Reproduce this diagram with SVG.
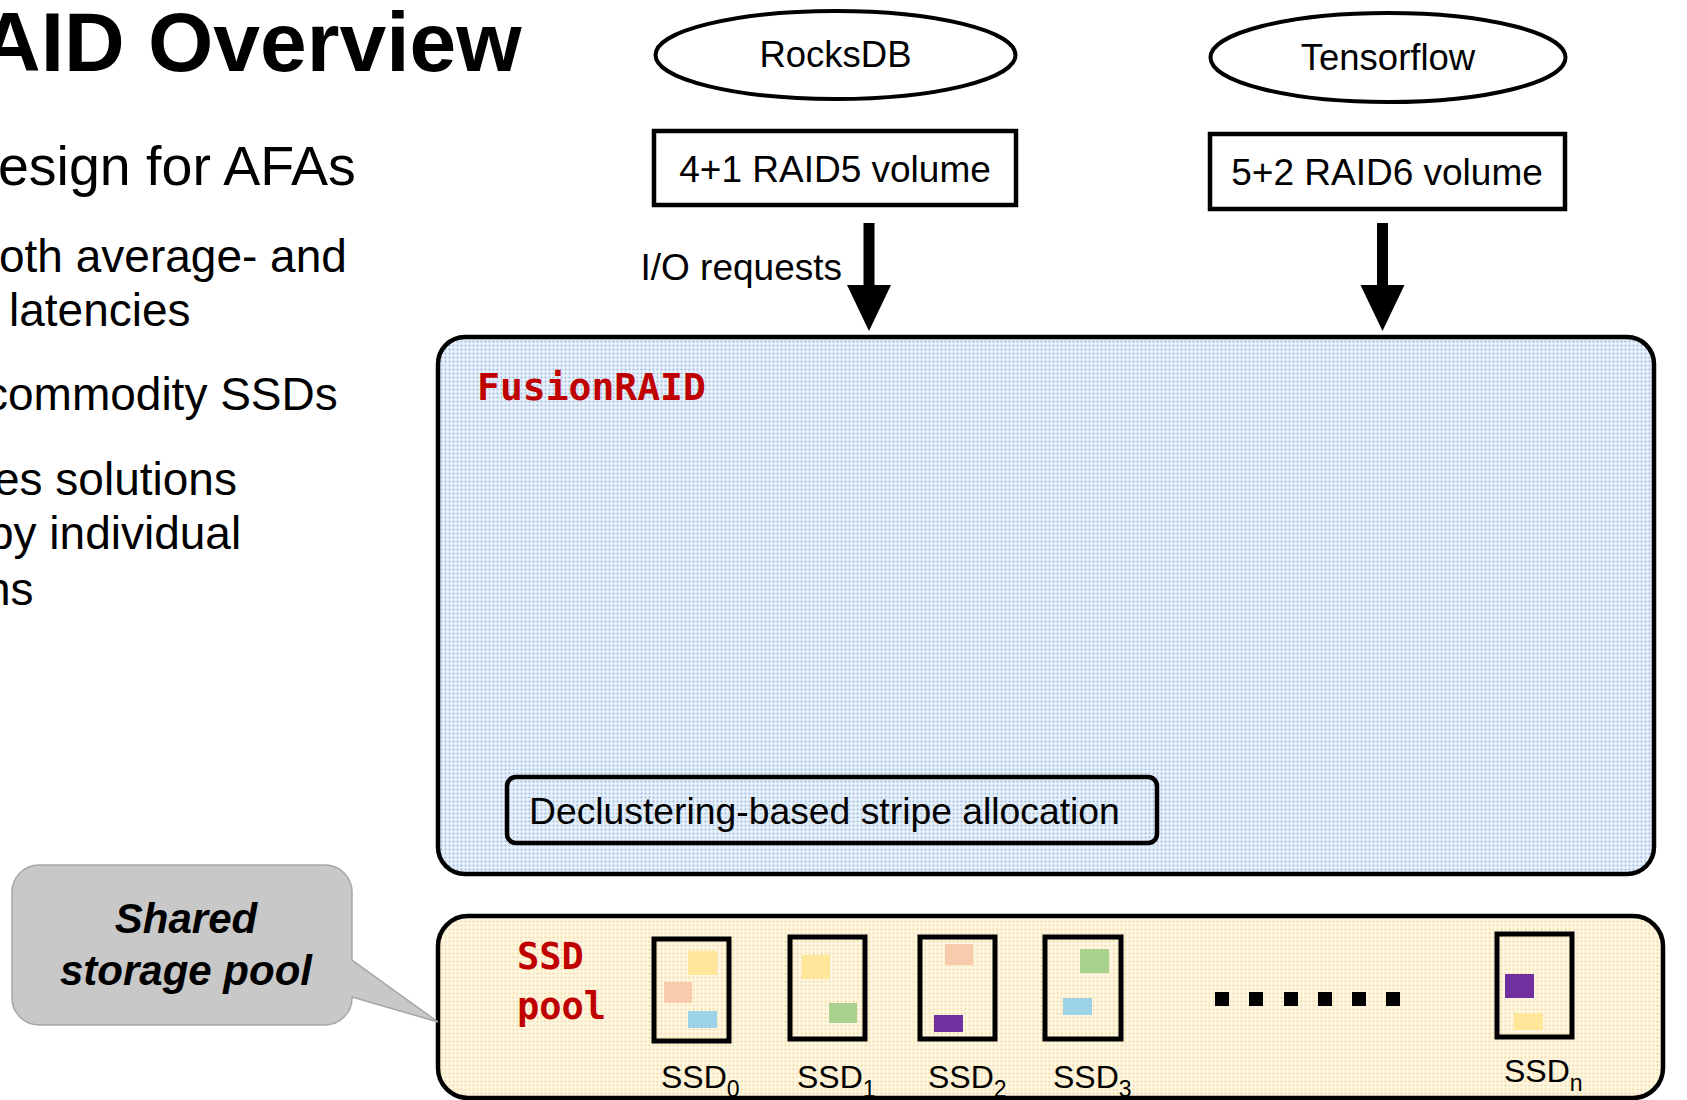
<svg xmlns="http://www.w3.org/2000/svg" width="1687" height="1100" viewBox="0 0 1687 1100">
<style>
.sans{font-family:"Liberation Sans",Arial,sans-serif;fill:#000}
.mono{font-family:"DejaVu Sans Mono","Liberation Mono",monospace;font-weight:bold;fill:#c00000}
.box{fill:none;stroke:#000;stroke-width:4.5}
.ssd{fill:none;stroke:#000;stroke-width:5}
.arrow{stroke:#000;stroke-width:11;fill:none}
</style>
<defs>
<pattern id="bluePat" width="4" height="4" patternUnits="userSpaceOnUse">
<rect width="4" height="4" fill="#e8f0f9"/>
<rect x="1" y="0" width="1" height="3" fill="#b7cfea"/>
<rect x="0" y="1" width="3" height="1" fill="#b7cfea"/>
</pattern>
<pattern id="yellowPat" width="4" height="4" patternUnits="userSpaceOnUse">
<rect width="4" height="4" fill="#fdf7e4"/>
<rect x="1" y="0" width="1" height="3" fill="#f7e3b3"/>
<rect x="0" y="1" width="3" height="1" fill="#f7e3b3"/>
</pattern>
<marker id="head" markerUnits="userSpaceOnUse" markerWidth="46" markerHeight="44" refX="0" refY="22" orient="auto" overflow="visible">
<path d="M0,0 L46,22 L0,44 Z" fill="#000"/>
</marker>
</defs>
<rect width="1687" height="1100" fill="#fff"/>

<g id="slide-text">
<text class="sans" x="-20" y="71" font-size="84" font-weight="bold">AID Overview</text>
<text class="sans" x="-2" y="185" font-size="55.5">esign for AFAs</text>
<text class="sans" x="-1" y="272" font-size="46">oth average- and</text>
<text class="sans" x="9" y="326" font-size="46">latencies</text>
<text class="sans" x="-15" y="410" font-size="46">commodity SSDs</text>
<text class="sans" x="-6" y="495" font-size="46">es solutions</text>
<text class="sans" x="-12" y="549" font-size="46">by individual</text>
<text class="sans" x="-15" y="605" font-size="46">ns</text>
</g>

<g id="rocksdb">
<ellipse cx="835.5" cy="55" rx="180" ry="44" fill="#fff" stroke="#000" stroke-width="4"/>
<text class="sans" x="835.5" y="67" font-size="36.5" text-anchor="middle">RocksDB</text>
</g>
<g id="tensorflow">
<ellipse cx="1388" cy="57.5" rx="177.5" ry="44.5" fill="#fff" stroke="#000" stroke-width="4"/>
<text class="sans" x="1388" y="70" font-size="36.5" text-anchor="middle">Tensorflow</text>
</g>
<g id="raid5">
<rect class="box" x="654" y="131" width="362" height="74"/>
<text class="sans" x="835" y="182" font-size="37" text-anchor="middle">4+1 RAID5 volume</text>
</g>
<g id="raid6">
<rect class="box" x="1210" y="134" width="355" height="75"/>
<text class="sans" x="1387" y="185" font-size="37" text-anchor="middle">5+2 RAID6 volume</text>
</g>

<g id="fusionraid">
<rect x="438" y="337" width="1216" height="537" rx="27" ry="27" fill="url(#bluePat)" stroke="#000" stroke-width="4.5"/>
<text class="mono" x="477" y="400" font-size="38">FusionRAID</text>
</g>
<g id="declustering">
<rect x="507" y="777" width="650" height="66" rx="9" ry="9" fill="none" stroke="#000" stroke-width="4.5"/>
<text class="sans" x="529" y="824" font-size="37.3">Declustering-based stripe allocation</text>
</g>

<g id="ssd-pool">
<rect x="438" y="916" width="1225" height="182" rx="30" ry="30" fill="url(#yellowPat)" stroke="#000" stroke-width="4.5"/>
<text class="mono" x="517" y="969" font-size="37">SSD</text>
<text class="mono" x="517" y="1019" font-size="37">pool</text>
</g>

<g id="ssd0">
<rect class="ssd" x="654" y="939" width="75" height="102"/>
<rect x="688" y="951" width="29" height="24" fill="#ffe699"/>
<rect x="664" y="982" width="28" height="21" fill="#f8cbad"/>
<rect x="688" y="1011" width="29" height="17" fill="#9dd3e9"/>
<text class="sans" x="661" y="1088" font-size="32">SSD<tspan font-size="23" dy="9">0</tspan></text>
</g>
<g id="ssd1">
<rect class="ssd" x="790" y="937" width="75" height="102"/>
<rect x="802" y="955" width="28" height="24" fill="#ffe699"/>
<rect x="829" y="1003" width="28" height="20" fill="#a9d18e"/>
<text class="sans" x="797" y="1088" font-size="32">SSD<tspan font-size="23" dy="9">1</tspan></text>
</g>
<g id="ssd2">
<rect class="ssd" x="920" y="937" width="75" height="102"/>
<rect x="945" y="944" width="28" height="21" fill="#f8cbad"/>
<rect x="934" y="1015" width="29" height="17" fill="#7030a0"/>
<text class="sans" x="928" y="1088" font-size="32">SSD<tspan font-size="23" dy="9">2</tspan></text>
</g>
<g id="ssd3">
<rect class="ssd" x="1045" y="937" width="76" height="102"/>
<rect x="1080" y="949" width="29" height="24" fill="#a9d18e"/>
<rect x="1063" y="998" width="29" height="17" fill="#9dd3e9"/>
<text class="sans" x="1053" y="1088" font-size="32">SSD<tspan font-size="23" dy="9">3</tspan></text>
</g>
<g id="ellipsis" fill="#000">
<rect x="1215" y="992" width="14" height="14"/>
<rect x="1249" y="992" width="14" height="14"/>
<rect x="1284" y="992" width="14" height="14"/>
<rect x="1318" y="992" width="14" height="14"/>
<rect x="1352" y="992" width="14" height="14"/>
<rect x="1386" y="992" width="14" height="14"/>
</g>
<g id="ssdn">
<rect class="ssd" x="1497" y="934" width="75" height="103"/>
<rect x="1505" y="974" width="29" height="24" fill="#7030a0"/>
<rect x="1514" y="1013" width="29" height="17" fill="#ffe699"/>
<text class="sans" x="1504" y="1082" font-size="32">SSD<tspan font-size="23" dy="9">n</tspan></text>
</g>

<g id="callout">
<path d="M39,865 H325 A27,27 0 0 1 352,892 V960 L438,1022 L352,997 V998 A27,27 0 0 1 325,1025 H39 A27,27 0 0 1 12,998 V892 A27,27 0 0 1 39,865 Z" fill="#c8c8c8" stroke="#a6a6a6" stroke-width="1.5"/>
<text class="sans" x="186" y="933" font-size="42" font-weight="bold" font-style="italic" text-anchor="middle">Shared</text>
<text class="sans" x="186" y="985" font-size="42" font-weight="bold" font-style="italic" text-anchor="middle">storage pool</text>
</g>

<g id="connectors">
<line class="arrow" x1="869" y1="223" x2="869" y2="285" marker-end="url(#head)"/>
<line class="arrow" x1="1382.5" y1="223" x2="1382.5" y2="285" marker-end="url(#head)"/>
<text class="sans" x="842" y="280" font-size="37" text-anchor="end">I/O requests</text>
</g>
</svg>
